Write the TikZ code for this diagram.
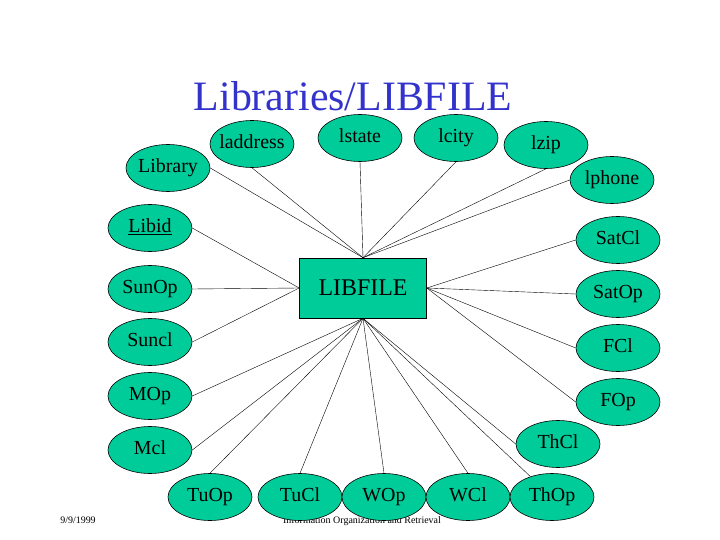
\documentclass[tikz,border=0pt]{standalone}
\usepackage{fontspec}
\setmainfont{Liberation Serif}
\usetikzlibrary{shapes.geometric}

\definecolor{attrgreen}{HTML}{00CC99}
\definecolor{titleblue}{HTML}{3333CC}

\begin{document}
\begin{tikzpicture}[
    x=1bp, y=-1bp,
    attr/.style={ellipse, draw=black, semithick, fill=attrgreen, minimum width=84bp, minimum height=47bp, inner xsep=-8bp, inner ysep=0pt, text height=0.9em, text depth=0em, font=\fontsize{20}{22}\selectfont},
    entity/.style={rectangle, draw=black, semithick, fill=attrgreen, minimum width=127bp, minimum height=60bp, inner sep=0pt, font=\fontsize{24}{26}\selectfont},
    link/.style={black, thin},
    tit/.style={titleblue, font=\fontsize{42}{46}\selectfont},
    foot/.style={font=\fontsize{10}{12}\selectfont}
]

% Page
\useasboundingbox (0,0) rectangle (720,540);

% Columns of attributes
\def\xL{150}
\def\xR{618}
\def\yB{497}

% ============================================================
% Title and footer
% ============================================================
\node[tit, anchor=base] (title) at (353,111) {Libraries/LIBFILE};
\node[foot, anchor=base] (date) at (78,523) {9/9/1999};
\node[foot, anchor=base] (course) at (362,523) {Information Organization and Retrieval};

% ============================================================
% Entity
% ============================================================
\node[entity] (libfile) at (363,288) {LIBFILE};

% ============================================================
% Attributes
% ============================================================

% Top row
\node[attr] (library)  at (168,168) {Library};
\node[attr] (laddress) at (252,144) {laddress};
\node[attr] (lstate)   at (360,138) {lstate};
\node[attr] (lcity)    at (456,138) {lcity};
\node[attr] (lzip)     at (546,145) {lzip};
\node[attr] (lphone)   at (612,180) {lphone};

% Left column
\node[attr] (libid) at (\xL,228) {\underline{Libid}};
\node[attr] (sunop) at (\xL,289) {SunOp};
\node[attr] (suncl) at (\xL,342) {Suncl};
\node[attr] (mop)   at (\xL,396) {MOp};
\node[attr] (mcl)   at (\xL,450) {Mcl};

% Right column
\node[attr] (satcl) at (\xR,240) {SatCl};
\node[attr] (satop) at (\xR,294) {SatOp};
\node[attr] (fcl)   at (\xR,348) {FCl};
\node[attr] (fop)   at (\xR,402) {FOp};
\node[attr] (thcl)  at (558,444) {ThCl};

% Bottom row
\node[attr] (tuop) at (210,\yB) {TuOp};
\node[attr] (tucl) at (300,\yB) {TuCl};
\node[attr] (wop)  at (384,\yB) {WOp};
\node[attr] (wcl)  at (468,\yB) {WCl};
\node[attr] (thop) at (552,\yB) {ThOp};

% ============================================================
% Links
% ============================================================
\foreach \a/\b in {library/east, laddress/south, lstate/south, lcity/south, lzip/south, lphone/west} {
    \draw[link] (libfile.north) -- (\a.\b);
}
\foreach \a in {libid, sunop, suncl} {
    \draw[link] (libfile.west) -- (\a.east);
}
\foreach \a in {satcl, satop, fcl, fop} {
    \draw[link] (libfile.east) -- (\a.west);
}
\foreach \a/\b in {mop/east, mcl/east, tuop/north, tucl/north, wop/north, wcl/north, thcl/west} {
    \draw[link] (libfile.south) -- (\a.\b);
}
\draw[link] (libfile.south) -- (thop);
\end{tikzpicture}
\end{document}
